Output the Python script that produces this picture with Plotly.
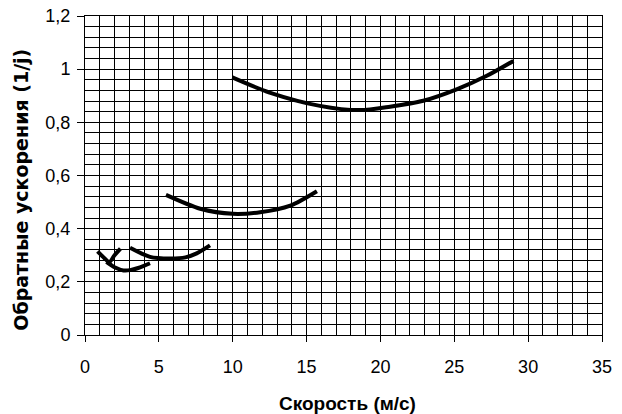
import plotly.graph_objects as go

# Curves (speed m/s -> inverse acceleration 1/j)
g1_x = [0.85, 1.3, 1.65, 2.0, 2.4]
g1_y = [0.315, 0.29, 0.275, 0.3, 0.325]

g2_x = [1.45, 2.0, 2.6, 3.05, 3.6, 4.4]
g2_y = [0.275, 0.255, 0.243, 0.244, 0.252, 0.27]

g3_x = [3.05, 4.4, 5.75, 6.8, 7.56, 8.46]
g3_y = [0.328, 0.294, 0.288, 0.292, 0.307, 0.337]

g4_x = [5.48, 7.8, 10.0, 11.85, 13.9, 15.7]
g4_y = [0.527, 0.475, 0.456, 0.462, 0.487, 0.541]

g5_x = [9.97, 12.5, 15.9, 18.6, 20.65, 22.9, 25.2, 27.2, 29.0]
g5_y = [0.969, 0.912, 0.862, 0.846, 0.859, 0.881, 0.925, 0.975, 1.031]

x_ticks = [0, 5, 10, 15, 20, 25, 30, 35]
y_ticks = [0, 0.2, 0.4, 0.6, 0.8, 1.0, 1.2]
y_tick_labels = ["0", "0,2", "0,4", "0,6", "0,8", "1", "1,2"]

fig = go.Figure()
for xs, ys in [(g1_x, g1_y), (g2_x, g2_y), (g3_x, g3_y), (g4_x, g4_y), (g5_x, g5_y)]:
    fig.add_trace(go.Scatter(x=xs, y=ys, mode="lines",
                             line=dict(color="black", width=4, shape="spline", smoothing=0.8),
                             showlegend=False, hoverinfo="skip"))

font = "Liberation Sans, Arial, sans-serif"
fig.update_layout(
    width=622, height=414,
    margin=dict(l=85, r=20, t=16, b=79, autoexpand=False),
    paper_bgcolor="white", plot_bgcolor="white",
    separators=", ",
    font=dict(family=font, size=18, color="black"),
    xaxis=dict(
        range=[0, 35], tickvals=x_ticks, ticks="outside", ticklen=6, tickcolor="black",
        ticklabelstandoff=9, ticklabeloverflow="allow",
        showline=True, linecolor="black", linewidth=1, mirror=True,
        showgrid=True, gridcolor="black", gridwidth=1,
        minor=dict(dtick=1, showgrid=True, gridcolor="black", gridwidth=1),
        zeroline=False, automargin=False,
    ),
    yaxis=dict(
        range=[0, 1.2], tickvals=y_ticks, ticktext=y_tick_labels,
        ticks="outside", ticklen=7, tickcolor="black",
        ticklabelstandoff=3, ticklabeloverflow="allow",
        showline=True, linecolor="black", linewidth=1, mirror=True,
        showgrid=True, gridcolor="black", gridwidth=1,
        minor=dict(dtick=0.04, tick0=0, showgrid=True, gridcolor="black", gridwidth=1),
        zeroline=False, automargin=False,
    ),
    annotations=[
        dict(text="<b>Скорость (м/с)</b>", xref="paper", yref="paper",
             x=0.508, y=-0.216, xanchor="center", yanchor="middle",
             showarrow=False, font=dict(size=19)),
        dict(text="<b>Обратные ускорения (1/j)</b>", xref="paper", yref="paper",
             x=-0.124, y=0.455, xanchor="center", yanchor="middle", textangle=-90,
             showarrow=False, font=dict(size=19, family="DejaVu Sans, sans-serif")),
    ],
)

fig.write_html("out.html", config={"displayModeBar": False},
               post_script="document.body.style.margin='0';document.body.style.overflow='hidden';")
